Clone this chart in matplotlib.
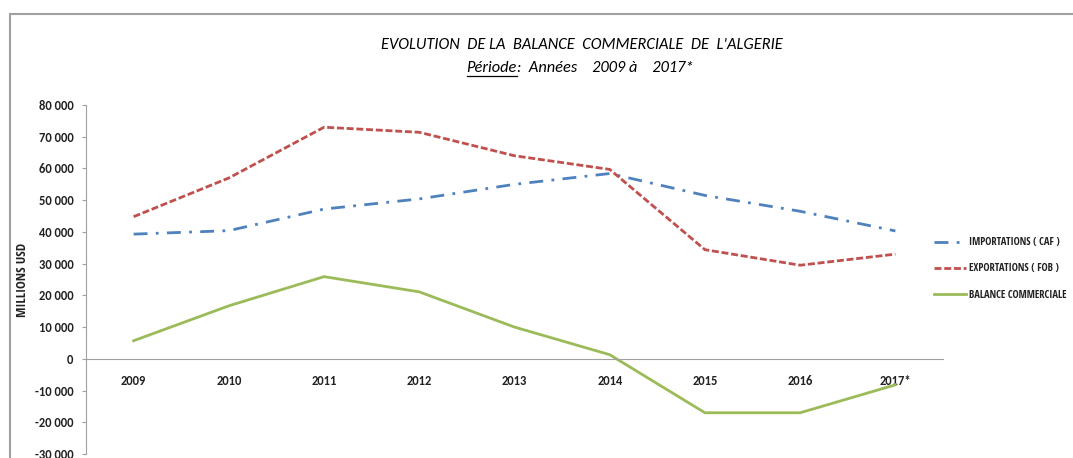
import numpy as np
import matplotlib
matplotlib.use("Agg")
import matplotlib.pyplot as plt
from matplotlib.patches import Rectangle
from matplotlib.lines import Line2D
from matplotlib.ticker import FuncFormatter

# Données (millions USD)
annees = ['2009', '2010', '2011', '2012', '2013', '2014', '2015', '2016', '2017*']
importations = [39300, 40400, 47200, 50400, 55000, 58400, 51500, 46500, 40300]
exportations = [44800, 57000, 73000, 71400, 64000, 59700, 34400, 29500, 33000]
balance = [5700, 16700, 25900, 21100, 10000, 1300, -17000, -17000, -8200]

couleur_imp = '#4F81BD'
couleur_exp = '#C0504D'
couleur_bal = '#9BBB59'

plt.rcParams['font.family'] = ['Carlito', 'Open Sans Condensed', 'DejaVu Sans']
police_etroite = ['Open Sans Condensed', 'Carlito', 'DejaVu Sans']

fig = plt.figure(figsize=(10.73, 4.58), dpi=100)
W, H = 1073, 458

# cadre gris du graphique
fig.patches.append(Rectangle((10 / W, -0.1), 1.2, 1.1 - 14 / H,
                             transform=fig.transFigure, fill=False,
                             edgecolor='#a0a0a0', linewidth=1.5))

ax = fig.add_axes([86 / W, 1 - 454 / H, (943 - 86) / W, (454 - 105) / H])
x = np.arange(len(annees))

ax.plot(x, importations, color=couleur_imp, lw=2.0, linestyle=(0, (5, 3, 1, 3)),
        label='IMPORTATIONS ( CAF )')
ax.plot(x, exportations, color=couleur_exp, lw=2.0, linestyle=(0, (2.5, 1)),
        label='EXPORTATIONS ( FOB )')
ax.plot(x, balance, color=couleur_bal, lw=2.0, label='BALANCE COMMERCIALE')

ax.set_xlim(-0.5, len(annees) - 0.5)
ax.set_ylim(-30000, 80000)
ax.set_yticks(np.arange(-30000, 80001, 10000))
ax.yaxis.set_major_formatter(FuncFormatter(lambda v, p: f"{int(v):,}".replace(',', ' ')))
ax.set_xticks(x)
ax.set_xticklabels(annees)

for s in ['top', 'right']:
    ax.spines[s].set_visible(False)
ax.spines['left'].set_color('#a0a0a0')
ax.spines['bottom'].set_position(('data', 0))
ax.spines['bottom'].set_color('#a0a0a0')
ax.tick_params(axis='x', length=0, pad=12, labelsize=9, colors='#222222')
ax.tick_params(axis='y', length=3, color='#a0a0a0', labelsize=9, labelcolor='#222222', pad=6)
for lab in ax.get_xticklabels() + ax.get_yticklabels():
    lab.set_fontweight('bold')

ax.set_ylabel('MILLIONS USD', fontsize=9.5, fontweight='bold', color='#222222',
              family=police_etroite)
ax.yaxis.set_label_coords(-0.066, 0.5)

leg = ax.legend(loc='center left', bbox_to_anchor=(925 / W, 1 - 269 / H),
                bbox_transform=fig.transFigure, frameon=False,
                prop={'family': police_etroite, 'weight': 'bold', 'size': 7.6},
                handlelength=3.0, handletextpad=0.3, labelspacing=1.45)
for t in leg.get_texts():
    t.set_color('#222222')

# titres
fig.text(0.542, 1 - 45 / H, "EVOLUTION  DE LA  BALANCE  COMMERCIALE  DE  L'ALGERIE",
         ha='center', va='center', fontsize=11.8, style='italic', color='#000000')
t1 = fig.text(0, 1 - 68 / H, 'Période', ha='left', va='center', fontsize=11.8,
              style='italic', color='#000000')
t2 = fig.text(0, 1 - 68 / H, ':  Années    2009 à    2017*', ha='left', va='center',
              fontsize=11.8, style='italic', color='#000000')
fig.canvas.draw()
r = fig.canvas.get_renderer()
w1 = t1.get_window_extent(r).width
w2 = t2.get_window_extent(r).width
x0 = 580 - (w1 + w2) / 2
t1.set_x(x0 / W)
t2.set_x((x0 + w1) / W)
bb = t1.get_window_extent(r)
fig.add_artist(Line2D([x0 / W, (x0 + w1) / W], [(bb.y0 - 1) / H, (bb.y0 - 1) / H],
                      transform=fig.transFigure, color='#000000', lw=0.9))

fig.savefig('out.png', dpi=100)
